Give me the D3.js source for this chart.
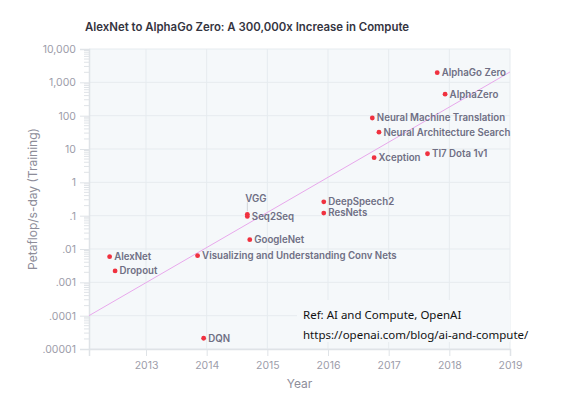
<!DOCTYPE html>
<html>
<head>
<meta charset="utf-8">
<script src="https://cdn.jsdelivr.net/npm/d3@7"></script>
<style>
  body { margin: 0; background: #fff; }
  svg { display: block; font-family: Inter, "Noto Sans", sans-serif; }
</style>
</head>
<body>
<svg id="chart"></svg>
<script>
let w = 575;
let h = 408;

// models, date (fractional year) and compute in petaflop/s-days
let names = ["AlexNet", "Dropout", "DQN", "Visualizing and Understanding Conv Nets",
  "VGG", "Seq2Seq", "GoogleNet", "DeepSpeech2", "ResNets",
  "Neural Machine Translation", "Neural Architecture Search", "Xception",
  "TI7 Dota 1v1", "AlphaGo Zero", "AlphaZero"];
let years = [2012.40, 2012.49, 2013.95, 2013.85,
  2014.67, 2014.67, 2014.71, 2015.93, 2015.93,
  2016.73, 2016.84, 2016.76,
  2017.64, 2017.80, 2017.93];
let values = [0.0059, 0.0022, 0.000021, 0.0063,
  0.11, 0.095, 0.019, 0.26, 0.12,
  85, 32, 5.5,
  7.2, 1950, 440];

// fitted trend (3.4 month doubling)
let trendYears = [2012.06, 2019];
let trendValues = [0.0001, 2050];

let yTicks = [1e4, 1e3, 100, 10, 1, 0.1, 0.01, 0.001, 0.0001, 0.00001];
let yTickLabels = ["10,000", "1,000", "100", "10", "1", ".1", ".01", ".001", ".0001", ".00001"];
let xTicks = [2013, 2014, 2015, 2016, 2017, 2018, 2019];

let title = "AlexNet to AlphaGo Zero: A 300,000x Increase in Compute";
let refLines = ["Ref: AI and Compute, OpenAI", "https://openai.com/blog/ai-and-compute/"];

let margin = {left: 89, right: 65, top: 49, bottom: 59};

let svg = d3.select("#chart").attr("width", w).attr("height", h);

let xScale = d3.scaleLinear()
  .domain([2012.06, 2019])
  .range([margin.left, w - margin.right]);
let yScale = d3.scaleLog()
  .domain([1e-5, 1e4])
  .range([h - margin.bottom, margin.top]);

let x0 = xScale.range()[0], x1 = xScale.range()[1];
let y0 = yScale.range()[0], y1 = yScale.range()[1];

// plot background
svg.append("rect")
  .attr("x", x0).attr("y", y1)
  .attr("width", x1 - x0).attr("height", y0 - y1)
  .attr("fill", "#f5f8fa");

// grid
svg.append("g").selectAll("line")
  .data(yTicks)
  .enter().append("line")
  .attr("x1", x0).attr("x2", x1)
  .attr("y1", d => yScale(d)).attr("y2", d => yScale(d))
  .attr("stroke", "#e6ebef").attr("stroke-width", 1);
svg.append("g").selectAll("line")
  .data(xTicks)
  .enter().append("line")
  .attr("x1", d => xScale(d)).attr("x2", d => xScale(d))
  .attr("y1", y1).attr("y2", y0)
  .attr("stroke", "#e6ebef").attr("stroke-width", 1);

// y axis
let minor = [];
yTicks.slice(0, -1).forEach(t => {
  for (let k = 2; k < 10; k++) minor.push(t / 10 * k);
});
let yAxis = d3.axisLeft(yScale)
  .tickValues(yTicks)
  .tickFormat((d, i) => yTickLabels[i])
  .tickSize(9)
  .tickPadding(4);
let yAxisGroup = svg.append("g")
  .attr("transform", `translate(${x0},0)`)
  .call(yAxis);
yAxisGroup.append("g").selectAll("line")
  .data(minor)
  .enter().append("line")
  .attr("x1", -5).attr("x2", 0)
  .attr("y1", d => yScale(d)).attr("y2", d => yScale(d))
  .attr("stroke", "#dfe3e7");

// x axis
let xAxis = d3.axisBottom(xScale)
  .tickValues(xTicks)
  .tickFormat(d3.format("d"))
  .tickSize(7)
  .tickPadding(6);
let xAxisGroup = svg.append("g")
  .attr("transform", `translate(0,${y0})`)
  .call(xAxis);

[yAxisGroup, xAxisGroup].forEach(g => {
  g.select(".domain").attr("stroke", "#dfe3e7").attr("stroke-width", 1.5);
  g.selectAll(".tick line").attr("stroke", "#dfe3e7");
  g.selectAll(".tick text")
    .attr("fill", "#9d9daa")
    .style("font-size", "10.5px")
    .style("font-family", "Inter, sans-serif");
});

// axis titles
svg.append("text")
  .attr("x", (x0 + x1) / 2).attr("y", 388)
  .attr("text-anchor", "middle")
  .attr("fill", "#8d8d99")
  .style("font-size", "12px")
  .text("Year");
svg.append("text")
  .attr("transform", `translate(37,${(y0 + y1) / 2}) rotate(-90)`)
  .attr("text-anchor", "middle")
  .attr("fill", "#8d8d99")
  .style("font-size", "12px")
  .text("Petaflop/s-day (Training)");

// title
svg.append("text")
  .attr("x", 85).attr("y", 31)
  .attr("fill", "#34343f")
  .style("font-size", "11.4px")
  .style("font-weight", 600)
  .text(title);

// trend line
let trend = trendYears.map((d, i) => [d, trendValues[i]]);
svg.append("path")
  .datum(trend)
  .attr("d", d3.line().x(d => xScale(d[0])).y(d => yScale(d[1])))
  .attr("fill", "none")
  .attr("stroke", "#e8a8ec")
  .attr("stroke-width", 1);

// points
let points = names.map((n, i) => ({name: n, year: years[i], value: values[i]}));
let pg = svg.append("g").selectAll("g")
  .data(points)
  .enter().append("g")
  .attr("transform", d => `translate(${xScale(d.year)},${yScale(d.value)})`);
pg.append("circle")
  .attr("r", 2.4)
  .attr("fill", "#f0313f");
pg.filter(d => d.name === "VGG").append("line")
  .attr("x1", 0).attr("x2", 0).attr("y1", -3).attr("y2", -12)
  .attr("stroke", "#cfd3d8");
pg.append("text")
  .attr("x", d => d.name === "VGG" ? -2 : 4.5)
  .attr("y", d => d.name === "VGG" ? -16 : 0)
  .attr("dy", "0.35em")
  .attr("fill", "#6f6f84")
  .style("font-size", "9.7px")
  .style("font-weight", 600)
  .text(d => d.name);

// reference note
svg.append("rect")
  .attr("x", 297).attr("y", 300)
  .attr("width", x1 - 297).attr("height", 42)
  .attr("fill", "#f5f8fa");
svg.append("g").selectAll("text")
  .data(refLines)
  .enter().append("text")
  .attr("x", 303)
  .attr("y", (d, i) => 319 + i * 20)
  .attr("fill", "#111")
  .style("font-family", "'Noto Sans', sans-serif")
  .style("font-size", "11.5px")
  .text(d => d);
</script>
</body>
</html>
